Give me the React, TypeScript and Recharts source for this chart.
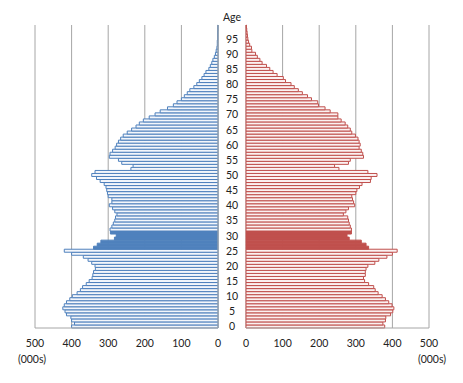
import { BarChart, Bar, XAxis, YAxis, CartesianGrid, Cell } from "recharts";

// single years of age, 0 at the bottom
const ages = Array.from({ length: 100 }, (_, i) => i);

// thousands, ages 0..99
const male = [
  400, 392, 400, 402, 414, 418, 424, 420, 414, 405,
  398, 385, 376, 370, 360, 352, 344, 342, 340, 335,
  336, 345, 355, 368, 400, 420, 340, 330, 320, 283,
  278, 294, 295, 290, 286, 282, 280, 276, 282, 288,
  297, 290, 290, 300, 302, 304, 306, 311, 322, 332,
  345, 336, 238, 232, 263, 272, 297, 295, 288, 281,
  277, 272, 266, 259, 248, 236, 224, 215, 204, 188,
  172, 158, 138, 122, 112, 100, 92, 84, 77, 66,
  58, 51, 44, 38, 33, 25, 21, 17, 14, 10,
  7, 5, 3, 2, 2, 1, 1, 1, 0.5, 0.5,
];

const female = [
  379, 374, 381, 382, 395, 401, 404, 399, 390, 381,
  372, 361, 353, 349, 335, 324, 321, 326, 326, 328,
  333, 352, 363, 385, 400, 413, 335, 328, 315, 282,
  276, 288, 288, 285, 282, 280, 278, 266, 273, 280,
  297, 294, 291, 289, 300, 303, 310, 317, 340, 342,
  358, 333, 254, 242, 280, 285, 321, 319, 315, 309,
  312, 309, 306, 299, 289, 285, 278, 271, 260, 251,
  251, 230, 216, 198, 196, 179, 168, 154, 143, 132,
  123, 108, 102, 85, 74, 65, 56, 44, 38, 31,
  26, 16, 15, 10, 7, 5, 4, 3, 2, 1,
];

const highlightAges = [26, 27, 28, 29, 30, 31];
const xTicks = [0, 100, 200, 300, 400, 500];

const data = ages.map((age, i) => ({ age, male: male[i], female: female[i] }));

const FONT = "Lato, 'Liberation Sans', sans-serif";
const GRID = "#a6a6a6";
const BLUE = "#4F81BD";
const RED = "#C0504D";

function AgeTick(props: any) {
  const { x, y, payload } = props;
  return (
    <text x={x} y={y} dy={4} textAnchor="middle" fontSize={10.5} fill="#222">
      {payload.value}
    </text>
  );
}

const labelStyle: React.CSSProperties = {
  position: "absolute",
  fontSize: 10.5,
  color: "#222",
  textAlign: "center",
  lineHeight: "14px",
};

export default function App() {
  return (
    <div
      style={{
        position: "absolute",
        left: 0,
        top: 0,
        width: 463,
        height: 383,
        background: "#fff",
        fontFamily: FONT,
      }}
    >
      <div style={{ position: "absolute", left: 0, top: 0 }}>
        <BarChart
          width={246}
          height={383}
          data={data}
          layout="vertical"
          margin={{ top: 25, right: 0, bottom: 25, left: 35 }}
          barCategoryGap={0}
        >
          <CartesianGrid horizontal={false} stroke={GRID} />
          <XAxis
            type="number"
            domain={[0, 500]}
            ticks={xTicks}
            interval={0}
            reversed
            tickLine={false}
            tickMargin={6}
            axisLine={{ stroke: GRID }}
            tick={{ fontSize: 10.5, fill: "#222" }}
          />
          <YAxis
            type="category"
            dataKey="age"
            orientation="right"
            reversed
            width={28}
            interval={4}
            tickLine={false}
            tickSize={0}
            tickMargin={14}
            axisLine={{ stroke: GRID }}
            tick={<AgeTick />}
          />
          <Bar dataKey="male" isAnimationActive={false} stroke={BLUE} strokeWidth={1}>
            {data.map((d) => (
              <Cell key={d.age} fill={highlightAges.includes(d.age) ? BLUE : "#f3f6fb"} />
            ))}
          </Bar>
        </BarChart>
      </div>

      <div style={{ position: "absolute", left: 236, top: 0 }}>
        <BarChart
          width={227}
          height={383}
          data={data}
          layout="vertical"
          margin={{ top: 25, right: 34, bottom: 25, left: 10 }}
          barCategoryGap={0}
        >
          <CartesianGrid horizontal={false} stroke={GRID} />
          <XAxis
            type="number"
            domain={[0, 500]}
            ticks={xTicks}
            interval={0}
            tickLine={false}
            tickMargin={6}
            axisLine={{ stroke: GRID }}
            tick={{ fontSize: 10.5, fill: "#222" }}
          />
          <YAxis type="category" dataKey="age" reversed hide />
          <Bar dataKey="female" isAnimationActive={false} stroke={RED} strokeWidth={1}>
            {data.map((d) => (
              <Cell key={d.age} fill={highlightAges.includes(d.age) ? RED : "#fbf1f1"} />
            ))}
          </Bar>
        </BarChart>
      </div>

      <div style={{ ...labelStyle, left: 212, top: 10, width: 40 }}>Age</div>
      <div style={{ ...labelStyle, left: 7, top: 352, width: 50 }}>(000s)</div>
      <div style={{ ...labelStyle, left: 407, top: 352, width: 50 }}>(000s)</div>
    </div>
  );
}
